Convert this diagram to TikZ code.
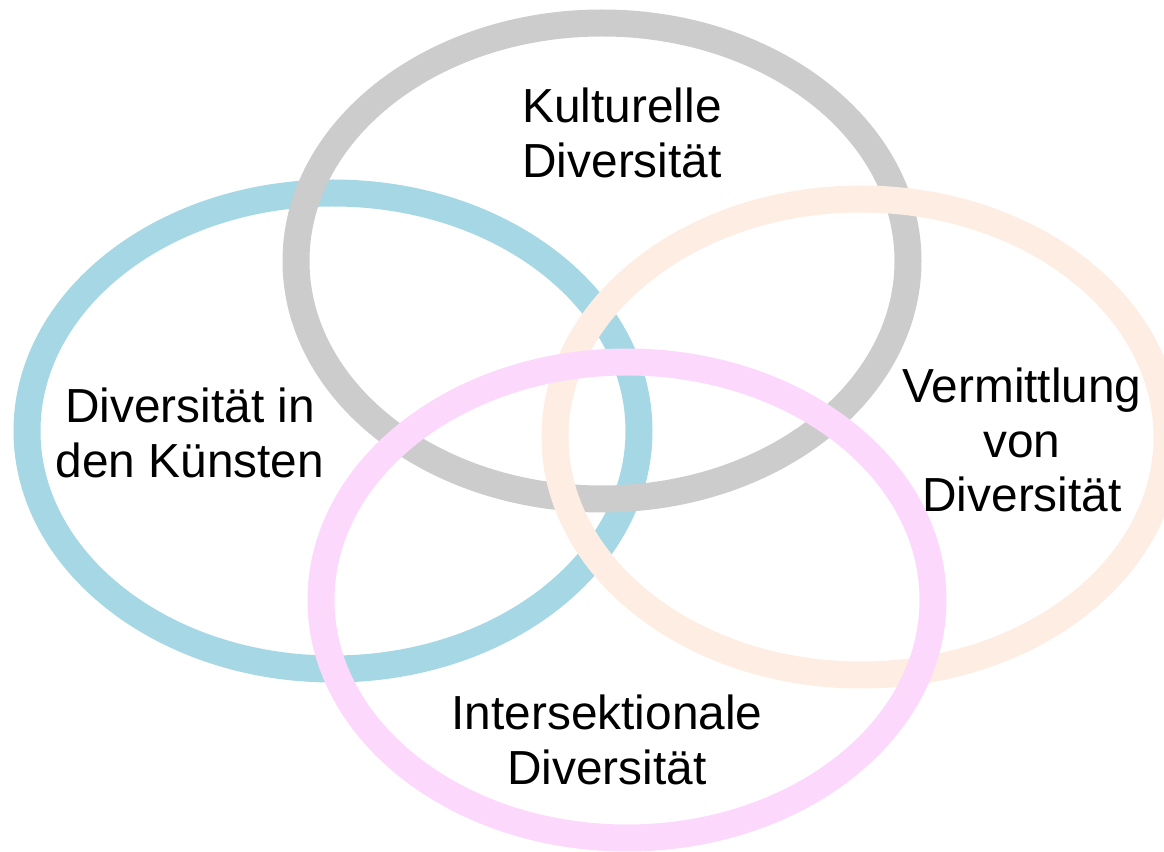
\documentclass[tikz,border=0pt]{standalone}
\usepackage{fontspec}
\setmainfont{Liberation Sans}

\definecolor{ringgray}{RGB}{204,204,204}
\definecolor{ringblue}{RGB}{165,215,228}
\definecolor{ringpeach}{RGB}{253,237,226}
\definecolor{ringpink}{RGB}{252,216,252}

\tikzset{
  ring/.style={line width=0.54cm},
  label/.style={align=center, font=\fontsize{27.2}{31}\selectfont}
}

\begin{document}
\begin{tikzpicture}
  \useasboundingbox (0,0) rectangle (23.28,17.02);
  \clip (0,0) rectangle (23.28,17.02);

  \draw [ring, ringblue] (6.66,8.40) ellipse [x radius=6.12cm, y radius=4.76cm];
  \draw [ring, ringgray] (12.04,11.80) ellipse [x radius=6.12cm, y radius=4.76cm];
  \draw [ring, ringpeach] (17.22,8.28) ellipse [x radius=6.12cm, y radius=4.76cm];
  \draw [ring, ringpink] (12.54,5.02) ellipse [x radius=6.12cm, y radius=4.76cm];

  \node [label] (kultur) at (12.44,14.36) {Kulturelle\\Diversität};
  \node [label] (kunst) at (3.80,8.36) {Diversität in\\den Künsten};
  \node [label] (vermittlung) at (20.44,8.22) {Vermittlung\\von\\Diversität};
  \node [label] (intersekt) at (12.14,2.22) {Intersektionale\\Diversität};
\end{tikzpicture}
\end{document}
